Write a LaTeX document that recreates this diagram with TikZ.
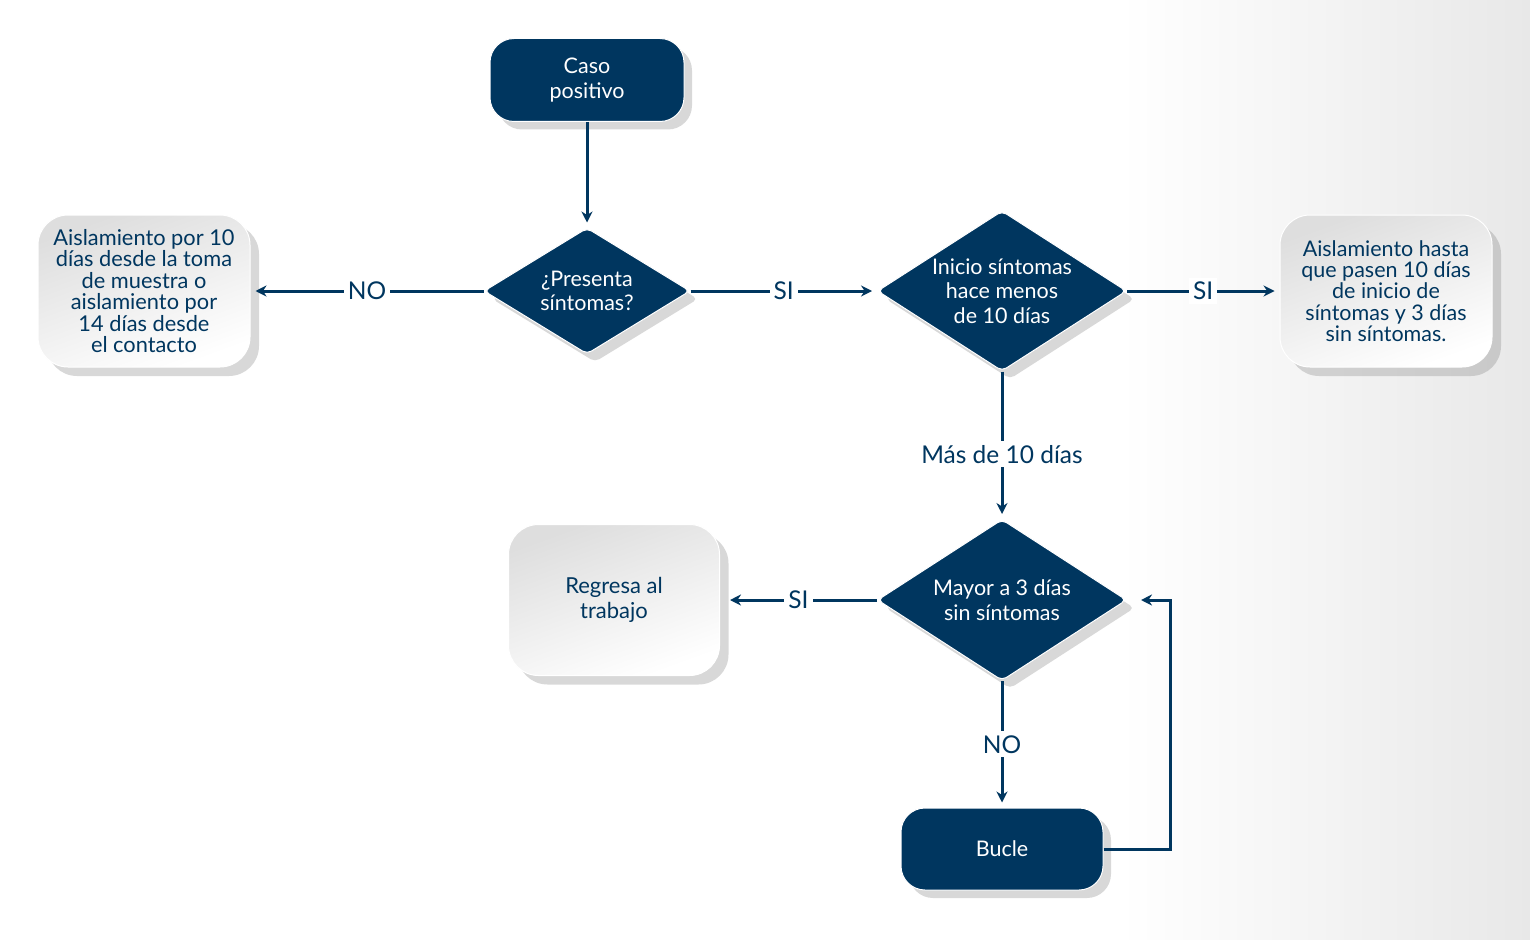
\documentclass[tikz,border=0pt]{standalone}
\usepackage{fontspec}
\setmainfont{Lato}
\usetikzlibrary{shapes.geometric}
\usetikzlibrary{shadows}
\usetikzlibrary{arrows.meta}
\definecolor{navy}{HTML}{00365F}

\begin{document}
\begin{tikzpicture}[x=1pt, y=-1pt,
                          darknode/.style={rectangle, rounded corners=24pt, draw=white, line width=1pt, fill=navy, text=white, minimum width=194pt, minimum height=83pt, align=center, font=\fontsize{21.5}{25}\selectfont, drop shadow={shadow xshift=8pt, shadow yshift=-8pt, opacity=0.3}},
                          decision/.style={diamond, draw=white, line width=1pt, fill=navy, text=white, inner sep=0pt, rounded corners=5pt, align=center, font=\fontsize{21.5}{24.5}\selectfont, drop shadow={shadow xshift=8pt, shadow yshift=-8pt, opacity=0.3}},
                          greynode/.style={rectangle, rounded corners=30pt, draw=white, line width=1pt, top color=black!13, bottom color=white, shading angle=20, text=navy, minimum width=212pt, minimum height=152pt, align=center, font=\fontsize{21.8}{21.4}\selectfont, drop shadow={shadow xshift=9pt, shadow yshift=-9pt, opacity=0.3}},
                          line/.style={navy, line width=3pt},
                          arrow/.style={line, -{Stealth[length=11pt, width=11pt]}, shorten >=5pt},
                          answer/.style={fill=white, text=navy, inner sep=4pt, font=\fontsize{24.5}{24.5}\selectfont},
                      ]
                      %Background
                      \useasboundingbox (0,0) rectangle (1530,939);
                      \fill[white] (0,0) rectangle (1530,939);
                      \shade[left color=white, right color=black!9] (1120,0) rectangle (1530,939);

                      %Nodes
                      \node[darknode]        (caso)     at (587,80)    {Caso\\positivo};
                      \node[decision, minimum width=206pt, minimum height=126pt, shape aspect=1.63]
                                             (presenta) at (587,291)   {¿Presenta\\síntomas?};
                      \node[decision, minimum width=249pt, minimum height=160pt, shape aspect=1.56]
                                             (inicio)   at (1002,291)  {Inicio síntomas\\hace menos\\de 10 días};
                      \node[decision, minimum width=249pt, minimum height=161pt, shape aspect=1.55]
                                             (mayor)    at (1002,600)  {Mayor a 3 días\\sin síntomas};
                      \node[darknode, minimum width=202pt, minimum height=82pt]
                                             (bucle)    at (1002,849)  {Bucle};
                      \node[greynode]        (diezcat)  at (144,291)   {Aislamiento por 10\\días desde la toma\\de muestra o\\aislamiento por\\14 días desde\\el contacto};
                      \node[greynode, font=\fontsize{21.5}{21.4}\selectfont]
                                             (hasta)    at (1386,291)  {Aislamiento hasta\\que pasen 10 días\\de inicio de\\síntomas y 3 días\\sin síntomas.};
                      \node[greynode, minimum width=211pt, minimum height=151pt, font=\fontsize{22}{25}\selectfont]
                                             (regresa)  at (614,600)   {Regresa al\\trabajo};
                      \coordinate            (vuelta)   at (1170,600);

                      %Lines
                      \draw[arrow] (caso.south) -- (presenta.north);
                      \draw[arrow] (presenta.west) -- node[answer] {NO} (diezcat.east);
                      \draw[arrow] (presenta.east) -- node[answer] {SI} (inicio.west);
                      \draw[arrow] (inicio.east) -- node[answer] {SI} (hasta.west);
                      \draw[arrow] (inicio.south) -- node[answer, pos=0.56] {Más de 10 días} (mayor.north);
                      \draw[arrow, shorten >=10pt] (mayor.west) -- node[answer] {SI} (regresa.east);
                      \draw[arrow] (mayor.south) -- node[answer] {NO} (bucle.north);
                      \draw[arrow, shorten >=14pt] (bucle.east) -| (vuelta) -- (mayor.east);
                  \end{tikzpicture}
\end{document}
